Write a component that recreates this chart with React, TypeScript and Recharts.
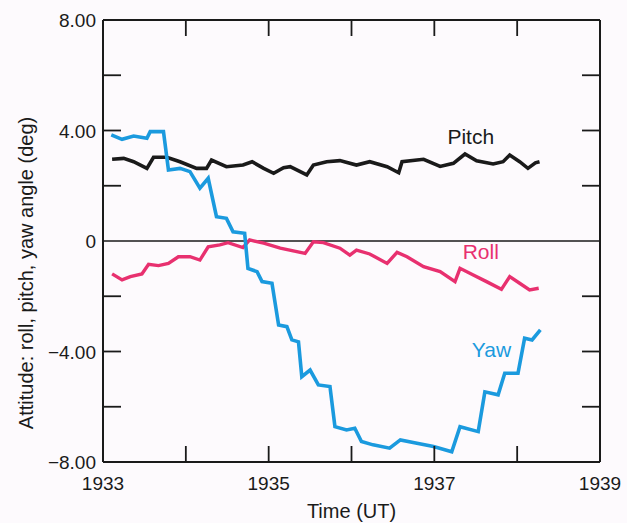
import { LineChart, Line, XAxis, YAxis, ReferenceLine, ReferenceDot } from "recharts"

const yawTime = [
  1933.10, 1933.23, 1933.37, 1933.53, 1933.57, 1933.73, 1933.79, 1933.93, 1934.05, 1934.17,
  1934.27, 1934.37, 1934.49, 1934.57, 1934.71, 1934.75, 1934.86, 1934.92, 1935.04, 1935.12,
  1935.22, 1935.28, 1935.36, 1935.40, 1935.50, 1935.60, 1935.74, 1935.80, 1935.94, 1936.04,
  1936.12, 1936.26, 1936.46, 1936.59, 1936.79, 1936.99, 1937.21, 1937.31, 1937.53, 1937.61,
  1937.77, 1937.85, 1938.01, 1938.09, 1938.18, 1938.28,
]
const yawAngle = [
  3.84, 3.68, 3.80, 3.72, 3.96, 3.96, 2.57, 2.63, 2.51, 1.91,
  2.27, 0.88, 0.82, 0.33, 0.28, -0.99, -1.11, -1.47, -1.53, -3.04,
  -3.10, -3.58, -3.65, -4.91, -4.67, -5.21, -5.27, -6.72, -6.84, -6.78,
  -7.26, -7.38, -7.50, -7.20, -7.32, -7.44, -7.63, -6.72, -6.90, -5.46,
  -5.57, -4.79, -4.79, -3.52, -3.58, -3.22,
]

const pitchTime = [
  1933.11, 1933.25, 1933.37, 1933.53, 1933.61, 1933.77, 1933.93, 1934.13, 1934.25, 1934.31,
  1934.49, 1934.69, 1934.80, 1934.94, 1935.06, 1935.18, 1935.26, 1935.46, 1935.54, 1935.70,
  1935.86, 1936.06, 1936.22, 1936.43, 1936.57, 1936.61, 1936.87, 1937.07, 1937.23, 1937.37,
  1937.51, 1937.71, 1937.83, 1937.91, 1938.03, 1938.13, 1938.22, 1938.27,
]
const pitchAngle = [
  2.96, 2.99, 2.87, 2.63, 3.03, 3.03, 2.87, 2.63, 2.63, 2.93,
  2.69, 2.75, 2.87, 2.63, 2.45, 2.65, 2.69, 2.39, 2.75, 2.87,
  2.91, 2.75, 2.87, 2.69, 2.47, 2.87, 2.96, 2.70, 2.81, 3.15,
  2.90, 2.79, 2.87, 3.11, 2.87, 2.63, 2.83, 2.87,
]

const rollTime = [
  1933.11, 1933.23, 1933.33, 1933.47, 1933.55, 1933.67, 1933.79, 1933.91, 1934.05, 1934.17,
  1934.27, 1934.41, 1934.51, 1934.69, 1934.77, 1934.94, 1935.14, 1935.44, 1935.54, 1935.66,
  1935.86, 1935.98, 1936.06, 1936.22, 1936.43, 1936.55, 1936.67, 1936.87, 1937.07, 1937.25,
  1937.31, 1937.47, 1937.63, 1937.81, 1937.91, 1938.03, 1938.15, 1938.26,
]
const rollAngle = [
  -1.19, -1.41, -1.29, -1.19, -0.84, -0.89, -0.81, -0.57, -0.57, -0.69,
  -0.21, -0.14, -0.06, -0.24, 0.04, -0.08, -0.26, -0.45, -0.03, -0.06,
  -0.26, -0.51, -0.33, -0.47, -0.81, -0.41, -0.57, -0.93, -1.11, -1.47,
  -0.99, -1.23, -1.47, -1.75, -1.29, -1.53, -1.77, -1.71,
]

const yearTicks = [1933, 1934, 1935, 1936, 1937, 1938, 1939]
const angleTicks = [-8, -6, -4, -2, 0, 2, 4, 6, 8]
const angleLabels: Record<number, string> = { 8: "8.00", 4: "4.00", 0: "0", [-4]: "\u22124.00", [-8]: "\u22128.00" }

const BLUE = "#1b9ade"
const PINK = "#e8306f"
const INK = "#1a1a1a"
const FONT = "'Liberation Sans', Arial, sans-serif"

const toRows = (t: number[], v: number[]) => t.map((x, i) => ({ t: x, v: v[i] }))
const yawData = toRows(yawTime, yawAngle)
const pitchData = toRows(pitchTime, pitchAngle)
const rollData = toRows(rollTime, rollAngle)

const inner = (v: number) => v !== 1933 && v !== 1939

function BottomTick({ x, y, payload }: any) {
  const v = payload.value
  return (
    <g>
      {inner(v) && <line x1={x} x2={x} y1={y} y2={y - 16} stroke={INK} strokeWidth={1.8} />}
      {v % 2 === 1 && (
        <text x={x} y={y + 28} textAnchor="middle" fontSize={19} fill={INK} fontFamily={FONT}>
          {v}
        </text>
      )}
    </g>
  )
}

function TopTick({ x, y, payload }: any) {
  if (!inner(payload.value)) return <g />
  return <line x1={x} x2={x} y1={y} y2={y + 16} stroke={INK} strokeWidth={1.8} />
}

function LeftTick({ x, y, payload }: any) {
  const v = payload.value
  const label = angleLabels[v]
  return (
    <g>
      {Math.abs(v) !== 8 && v !== 0 && (
        <line x1={x} x2={x + 18} y1={y} y2={y} stroke={INK} strokeWidth={1.8} />
      )}
      {label && (
        <text x={x - 7} y={y + 7} textAnchor="end" fontSize={19} fill={INK} fontFamily={FONT}>
          {label}
        </text>
      )}
    </g>
  )
}

function RightTick({ x, y, payload }: any) {
  const v = payload.value
  if (Math.abs(v) === 8 || v === 0) return <g />
  return <line x1={x} x2={x - 18} y1={y} y2={y} stroke={INK} strokeWidth={1.8} />
}

const seriesLabel = (text: string, color: string) => (p: any) => (
  <text x={p.cx} y={p.cy} textAnchor="middle" fontSize={21} fill={color} fontFamily={FONT}>
    {text}
  </text>
)

export default function App() {
  return (
    <div style={{ position: "absolute", left: 0, top: 0, background: "#fdfafd" }}>
      <LineChart width={627} height={523} margin={{ top: 0, right: 0, bottom: 0, left: 0 }}>
        <XAxis
          dataKey="t"
          type="number"
          domain={[1933, 1939]}
          ticks={yearTicks}
          interval={0}
          tickSize={0}
          tickMargin={0}
          height={61}
          stroke={INK}
          strokeWidth={2}
          tick={BottomTick}
          allowDuplicatedCategory={false}
          label={{
            content: (p: any) => (
              <text
                x={p.viewBox.x + p.viewBox.width / 2}
                y={p.viewBox.y + 56}
                textAnchor="middle"
                fontSize={20}
                fill={INK}
                fontFamily={FONT}
              >
                Time (UT)
              </text>
            ),
          }}
        />
        <XAxis
          xAxisId="top"
          orientation="top"
          dataKey="t"
          type="number"
          domain={[1933, 1939]}
          ticks={yearTicks}
          interval={0}
          tickSize={0}
          tickMargin={0}
          height={20}
          stroke={INK}
          strokeWidth={2}
          tick={TopTick}
          allowDuplicatedCategory={false}
        />
        <YAxis
          type="number"
          domain={[-8, 8]}
          ticks={angleTicks}
          interval={0}
          tickSize={0}
          tickMargin={0}
          width={103}
          stroke={INK}
          strokeWidth={2}
          tick={LeftTick}
          label={{
            content: (p: any) => {
              const cx = p.viewBox.x + 26
              const cy = p.viewBox.y + p.viewBox.height / 2 + 32
              return (
                <text
                  x={cx}
                  y={cy}
                  transform={`rotate(-90 ${cx} ${cy})`}
                  textAnchor="middle"
                  dominantBaseline="central"
                  fontSize={20}
                  fill={INK}
                  fontFamily={FONT}
                >
                  Attitude: roll, pitch, yaw angle (deg)
                </text>
              )
            },
          }}
        />
        <YAxis
          yAxisId="right"
          orientation="right"
          type="number"
          domain={[-8, 8]}
          ticks={angleTicks}
          interval={0}
          tickSize={0}
          tickMargin={0}
          width={27}
          stroke={INK}
          strokeWidth={2}
          tick={RightTick}
        />
        <ReferenceLine y={0} stroke={INK} strokeWidth={1.5} />
        <Line data={pitchData} dataKey="v" type="linear" stroke={INK} strokeWidth={3.6} dot={false} isAnimationActive={false} />
        <Line
          data={rollData}
          dataKey="v"
          xAxisId="top"
          yAxisId="right"
          type="linear"
          stroke={PINK}
          strokeWidth={3.4}
          dot={false}
          isAnimationActive={false}
        />
        <Line data={yawData} dataKey="v" type="linear" stroke={BLUE} strokeWidth={3.6} dot={false} isAnimationActive={false} />
        <ReferenceDot x={1937.44} y={3.51} r={0} shape={seriesLabel("Pitch", INK)} />
        <ReferenceDot x={1937.56} y={-0.65} r={0} shape={seriesLabel("Roll", PINK)} />
        <ReferenceDot x={1937.69} y={-4.19} r={0} shape={seriesLabel("Yaw", BLUE)} />
      </LineChart>
    </div>
  )
}
